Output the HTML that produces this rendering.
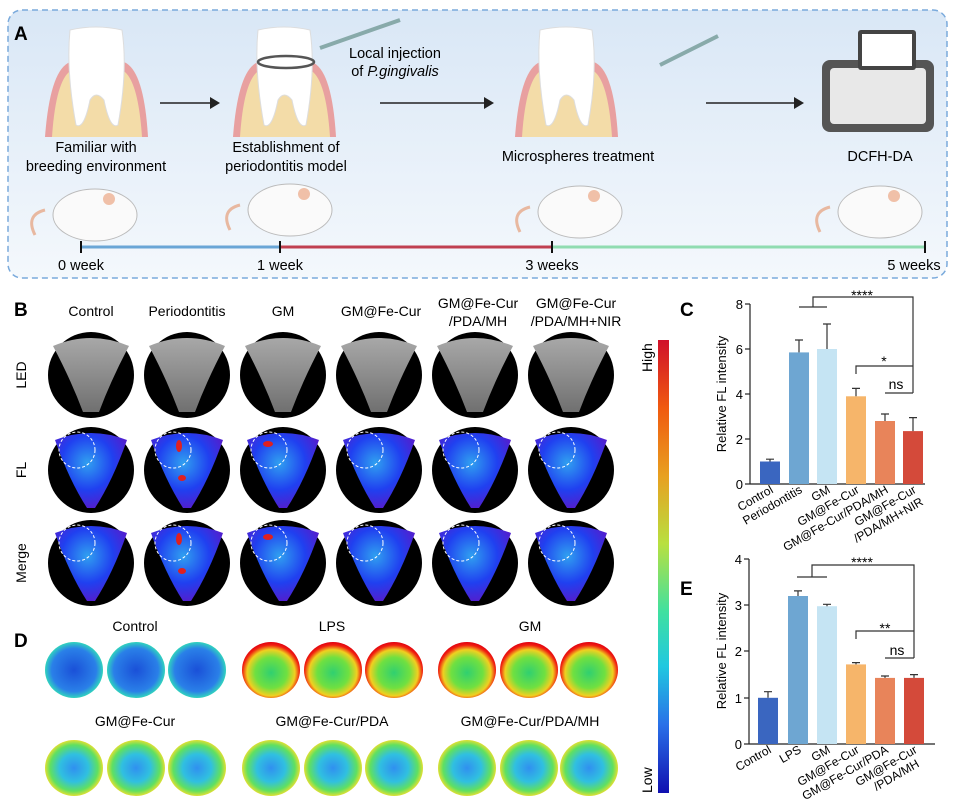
<!DOCTYPE html>
<html><head><meta charset="utf-8"><style>
html,body{margin:0;padding:0;background:#fff}
svg{display:block;font-family:"Liberation Sans",Arial,sans-serif}
</style></head><body>
<svg width="955" height="805" viewBox="0 0 955 805" xmlns="http://www.w3.org/2000/svg">
<defs>
<linearGradient id="bgA" x1="0" y1="0" x2="0" y2="1"><stop offset="0" stop-color="#d9e7f6"/><stop offset="1" stop-color="#f4f8fc"/></linearGradient>
<linearGradient id="cbar" x1="0" y1="0" x2="0" y2="1">
<stop offset="0" stop-color="#d0102a"/><stop offset="0.15" stop-color="#f05a10"/><stop offset="0.3" stop-color="#e8a020"/><stop offset="0.45" stop-color="#b8e040"/><stop offset="0.6" stop-color="#40e0a0"/><stop offset="0.72" stop-color="#20c8e0"/><stop offset="0.85" stop-color="#2a70e8"/><stop offset="1" stop-color="#1010b0"/></linearGradient>
<radialGradient id="fl" cx="0.45" cy="0.4" r="0.6"><stop offset="0" stop-color="#30a0f0"/><stop offset="0.6" stop-color="#2040f0"/><stop offset="1" stop-color="#5020d0"/></radialGradient>
<radialGradient id="cold" cx="0.5" cy="0.5" r="0.55"><stop offset="0" stop-color="#1a50d8"/><stop offset="0.7" stop-color="#2a80e8"/><stop offset="0.9" stop-color="#30d0c0"/><stop offset="1" stop-color="#60e060"/></radialGradient>
<radialGradient id="hot" cx="0.5" cy="0.55" r="0.55"><stop offset="0" stop-color="#30d070"/><stop offset="0.5" stop-color="#70e040"/><stop offset="0.75" stop-color="#f0d020"/><stop offset="0.9" stop-color="#f02010"/><stop offset="1" stop-color="#e00010"/></radialGradient>
<radialGradient id="mid" cx="0.5" cy="0.5" r="0.55"><stop offset="0" stop-color="#3090f0"/><stop offset="0.45" stop-color="#30c0e0"/><stop offset="0.75" stop-color="#60e060"/><stop offset="0.92" stop-color="#e8e030"/><stop offset="1" stop-color="#f05020"/></radialGradient>
<linearGradient id="led" x1="0" y1="0" x2="0" y2="1"><stop offset="0" stop-color="#a8a8a8"/><stop offset="1" stop-color="#707070"/></linearGradient>
<g id="col">
<circle cx="0" cy="375" r="43" fill="#000"/>
<path d="M-38 346 Q0 330 38 346 Q20 380 8 412 L-8 412 Q-20 380 -38 346Z" fill="url(#led)"/>
<circle cx="0" cy="470" r="43" fill="#000"/>
<path d="M-36 440 Q0 426 36 440 Q22 480 4 508 L-4 508 Q-22 480 -36 440Z" fill="url(#fl)"/>
<circle cx="-14" cy="450" r="18" fill="none" stroke="#fff" stroke-dasharray="3,2"/>
<circle cx="0" cy="563" r="43" fill="#000"/>
<path d="M-36 533 Q0 519 36 533 Q22 573 4 601 L-4 601 Q-22 573 -36 533Z" fill="url(#fl)"/>
<circle cx="-14" cy="543" r="18" fill="none" stroke="#fff" stroke-dasharray="3,2"/>
</g>
<g id="mouse">
<path d="M-60 20 Q-70 0 -50 -5" fill="none" stroke="#e8b8a0" stroke-width="3"/>
<ellipse cx="0" cy="0" rx="42" ry="26" fill="#fafafa" stroke="#bbb"/>
<circle cx="14" cy="-16" r="6" fill="#f0c0a8"/>
</g>
</defs>

<!-- Panel A -->
<rect x="8" y="10" width="939" height="268" rx="14" fill="url(#bgA)" stroke="#7aaadc" stroke-width="1.5" stroke-dasharray="6,4"/>
<text x="14" y="40" font-size="19" font-weight="bold">A</text>
<g id="tooth">
<path d="M45 137 Q50 70 70 62 L124 62 Q144 70 148 137 Z" fill="#e8a0a0"/>
<path d="M52 137 Q56 78 72 70 L122 70 Q138 78 142 137 Z" fill="#f3dca8"/>
<path d="M70 30 Q96 24 122 30 Q128 70 118 125 Q110 130 104 100 Q96 90 90 100 Q84 130 76 125 Q66 70 70 30Z" fill="#fff" stroke="#ddd"/>
</g>
<use href="#tooth" x="188"/>
<ellipse cx="286" cy="62" rx="28" ry="6" fill="none" stroke="#555" stroke-width="2.5"/>
<use href="#tooth" x="470"/>
<text font-size="14.5" text-anchor="middle"><tspan x="96" y="152">Familiar with</tspan><tspan x="96" y="171">breeding environment</tspan></text>
<text font-size="14.5" text-anchor="middle"><tspan x="286" y="152">Establishment of</tspan><tspan x="286" y="171">periodontitis model</tspan></text>
<text font-size="14.5" text-anchor="middle"><tspan x="395" y="58">Local injection</tspan><tspan x="395" y="76">of <tspan font-style="italic">P.gingivalis</tspan></tspan></text>
<text x="578" y="161" font-size="14.5" text-anchor="middle">Microspheres treatment</text>
<text x="880" y="161" font-size="14.5" text-anchor="middle">DCFH-DA</text>
<line x1="320" y1="48" x2="400" y2="20" stroke="#8aa" stroke-width="4"/>
<line x1="660" y1="65" x2="718" y2="36" stroke="#8aa" stroke-width="4"/>
<g stroke="#222" stroke-width="1.5"><line x1="160" y1="103" x2="212" y2="103"/><line x1="380" y1="103" x2="486" y2="103"/><line x1="706" y1="103" x2="796" y2="103"/></g>
<g fill="#222"><path d="M220 103 L210 97 L210 109Z"/><path d="M494 103 L484 97 L484 109Z"/><path d="M804 103 L794 97 L794 109Z"/></g>
<rect x="822" y="60" width="112" height="72" rx="8" fill="#555"/>
<rect x="830" y="68" width="96" height="56" rx="4" fill="#e8e8e8"/>
<rect x="858" y="30" width="58" height="40" rx="3" fill="#444"/>
<rect x="862" y="34" width="50" height="32" fill="#fff"/>
<use href="#mouse" x="95" y="215"/><use href="#mouse" x="290" y="210"/><use href="#mouse" x="580" y="212"/><use href="#mouse" x="880" y="212"/>
<line x1="81" y1="247" x2="280" y2="247" stroke="#6aa6d6" stroke-width="3"/>
<line x1="280" y1="247" x2="552" y2="247" stroke="#c04050" stroke-width="3"/>
<line x1="552" y1="247" x2="925" y2="247" stroke="#90dcb0" stroke-width="3"/>
<g stroke="#111" stroke-width="2"><line x1="81" y1="241" x2="81" y2="253"/><line x1="280" y1="241" x2="280" y2="253"/><line x1="552" y1="241" x2="552" y2="253"/><line x1="925" y1="241" x2="925" y2="253"/></g>
<g font-size="14.5" text-anchor="middle"><text x="81" y="270">0 week</text><text x="280" y="270">1 week</text><text x="552" y="270">3 weeks</text><text x="914" y="270">5 weeks</text></g>

<!-- Panel B -->
<text x="14" y="316" font-size="19" font-weight="bold">B</text>
<g font-size="14" text-anchor="middle">
<text x="91" y="316">Control</text><text x="187" y="316">Periodontitis</text><text x="283" y="316">GM</text><text x="381" y="316">GM@Fe-Cur</text>
<text x="478" y="308">GM@Fe-Cur</text><text x="478" y="326">/PDA/MH</text>
<text x="576" y="308">GM@Fe-Cur</text><text x="576" y="326">/PDA/MH+NIR</text>
</g>
<g font-size="14" text-anchor="middle">
<text transform="translate(26,375) rotate(-90)">LED</text>
<text transform="translate(26,470) rotate(-90)">FL</text>
<text transform="translate(26,563) rotate(-90)">Merge</text>
</g>
<use href="#col" x="91"/><use href="#col" x="187"/><use href="#col" x="283"/><use href="#col" x="379"/><use href="#col" x="475"/><use href="#col" x="571"/>
<g fill="#e02020"><ellipse cx="179" cy="446" rx="3" ry="6"/><ellipse cx="182" cy="478" rx="4" ry="3"/><ellipse cx="179" cy="539" rx="3" ry="6"/><ellipse cx="182" cy="571" rx="4" ry="3"/><ellipse cx="268" cy="444" rx="5" ry="3"/><ellipse cx="268" cy="537" rx="5" ry="3"/></g>
<rect x="658" y="340" width="11" height="453" fill="url(#cbar)"/>
<text transform="translate(652,372) rotate(-90)" font-size="14">High</text>
<text transform="translate(652,793) rotate(-90)" font-size="14">Low</text>

<!-- Panel D -->
<text x="14" y="647" font-size="19" font-weight="bold">D</text>
<g font-size="14" text-anchor="middle"><text x="135" y="631">Control</text><text x="332" y="631">LPS</text><text x="530" y="631">GM</text>
<text x="135" y="726">GM@Fe-Cur</text><text x="332" y="726">GM@Fe-Cur/PDA</text><text x="530" y="726">GM@Fe-Cur/PDA/MH</text></g>
<g>
<ellipse cx="74" cy="670" rx="29" ry="28" fill="url(#cold)"/><ellipse cx="136" cy="670" rx="29" ry="28" fill="url(#cold)"/><ellipse cx="197" cy="670" rx="29" ry="28" fill="url(#cold)"/>
<ellipse cx="271" cy="670" rx="29" ry="28" fill="url(#hot)"/><ellipse cx="333" cy="670" rx="29" ry="28" fill="url(#hot)"/><ellipse cx="394" cy="670" rx="29" ry="28" fill="url(#hot)"/>
<ellipse cx="467" cy="670" rx="29" ry="28" fill="url(#hot)"/><ellipse cx="529" cy="670" rx="29" ry="28" fill="url(#hot)"/><ellipse cx="589" cy="670" rx="29" ry="28" fill="url(#hot)"/>
<ellipse cx="74" cy="768" rx="29" ry="28" fill="url(#mid)"/><ellipse cx="136" cy="768" rx="29" ry="28" fill="url(#mid)"/><ellipse cx="197" cy="768" rx="29" ry="28" fill="url(#mid)"/>
<ellipse cx="271" cy="768" rx="29" ry="28" fill="url(#mid)"/><ellipse cx="333" cy="768" rx="29" ry="28" fill="url(#mid)"/><ellipse cx="394" cy="768" rx="29" ry="28" fill="url(#mid)"/>
<ellipse cx="467" cy="768" rx="29" ry="28" fill="url(#mid)"/><ellipse cx="529" cy="768" rx="29" ry="28" fill="url(#mid)"/><ellipse cx="589" cy="768" rx="29" ry="28" fill="url(#mid)"/>
</g>

<!-- Panel C -->
<text x="680" y="316" font-size="19" font-weight="bold">C</text>
<g stroke="#222" stroke-width="1.2" fill="none">
<line x1="750" y1="304" x2="750" y2="484"/><line x1="750" y1="484" x2="925" y2="484"/>
<line x1="745" y1="304" x2="750" y2="304"/><line x1="745" y1="349" x2="750" y2="349"/><line x1="745" y1="394" x2="750" y2="394"/><line x1="745" y1="439" x2="750" y2="439"/><line x1="745" y1="484" x2="750" y2="484"/>
</g>
<g font-size="13" text-anchor="end"><text x="743" y="309">8</text><text x="743" y="354">6</text><text x="743" y="399">4</text><text x="743" y="444">2</text><text x="743" y="489">0</text></g>
<text transform="translate(726,394) rotate(-90)" font-size="13" text-anchor="middle">Relative FL intensity</text>
<g>
<rect x="760" y="461.5" width="20" height="22.5" fill="#3a66c0"/>
<rect x="789" y="352.4" width="20" height="131.6" fill="#6ea6d2"/>
<rect x="817" y="349" width="20" height="135" fill="#c5e4f3"/>
<rect x="846" y="396.3" width="20" height="87.7" fill="#f6b56a"/>
<rect x="875" y="421" width="20" height="63" fill="#e8845a"/>
<rect x="903" y="431.1" width="20" height="52.9" fill="#d44a3a"/>
</g>
<g stroke="#333" stroke-width="1.2" fill="none">
<path d="M770 461.5V459.2M766 459.2H774"/><path d="M799 352.4V340M795 340H803"/><path d="M827 349V324M823 324H831"/><path d="M856 396.3V388.4M852 388.4H860"/><path d="M885 421V414M881 414H889"/><path d="M913 431.1V417.6M909 417.6H917"/>
<path d="M799 307H827M813 307V297H913V393"/><path d="M856 374V366H913"/><path d="M885 393H913"/>
</g>
<g font-size="14" text-anchor="middle"><text x="862" y="300">****</text><text x="884" y="366">*</text><text x="896" y="389">ns</text></g>
<g font-size="12" text-anchor="end">
<text transform="translate(774,492) rotate(-30)">Control</text>
<text transform="translate(803,492) rotate(-30)">Periodontitis</text>
<text transform="translate(831,492) rotate(-30)">GM</text>
<text transform="translate(860,492) rotate(-30)">GM@Fe-Cur</text>
<text transform="translate(889,492) rotate(-30)">GM@Fe-Cur/PDA/MH</text>
<text transform="translate(917,492) rotate(-30)">GM@Fe-Cur</text>
<text transform="translate(924,504) rotate(-30)">/PDA/MH+NIR</text>
</g>

<!-- Panel E -->
<text x="680" y="595" font-size="19" font-weight="bold">E</text>
<g stroke="#222" stroke-width="1.2" fill="none">
<line x1="749" y1="559" x2="749" y2="744"/><line x1="749" y1="744" x2="935" y2="744"/>
<line x1="744" y1="559" x2="749" y2="559"/><line x1="744" y1="605" x2="749" y2="605"/><line x1="744" y1="651" x2="749" y2="651"/><line x1="744" y1="698" x2="749" y2="698"/><line x1="744" y1="744" x2="749" y2="744"/>
</g>
<g font-size="13" text-anchor="end"><text x="742" y="564">4</text><text x="742" y="610">3</text><text x="742" y="656">2</text><text x="742" y="703">1</text><text x="742" y="749">0</text></g>
<text transform="translate(726,651) rotate(-90)" font-size="13" text-anchor="middle">Relative FL intensity</text>
<g>
<rect x="758" y="697.8" width="20" height="46.2" fill="#3a66c0"/>
<rect x="788" y="596" width="20" height="148" fill="#6ea6d2"/>
<rect x="817" y="606.2" width="20" height="137.8" fill="#c5e4f3"/>
<rect x="846" y="664.4" width="20" height="79.6" fill="#f6b56a"/>
<rect x="875" y="677.9" width="20" height="66.1" fill="#e8845a"/>
<rect x="904" y="677.9" width="20" height="66.1" fill="#d44a3a"/>
</g>
<g stroke="#333" stroke-width="1.2" fill="none">
<path d="M768 697.8V691.7M764 691.7H772"/><path d="M798 596V590.9M794 590.9H802"/><path d="M827 606.2V604.3M823 604.3H831"/><path d="M856 664.4V662.6M852 662.6H860"/><path d="M885 677.9V676M881 676H889"/><path d="M914 677.9V674.6M910 674.6H918"/>
<path d="M797 577H827M812 577V565H914V658"/><path d="M856 639V631H914"/><path d="M885 658H914"/>
</g>
<g font-size="14" text-anchor="middle"><text x="862" y="567">****</text><text x="885" y="633">**</text><text x="897" y="655">ns</text></g>
<g font-size="12" text-anchor="end">
<text transform="translate(772,752) rotate(-30)">Control</text>
<text transform="translate(802,752) rotate(-30)">LPS</text>
<text transform="translate(831,752) rotate(-30)">GM</text>
<text transform="translate(860,752) rotate(-30)">GM@Fe-Cur</text>
<text transform="translate(889,752) rotate(-30)">GM@Fe-Cur/PDA</text>
<text transform="translate(918,752) rotate(-30)">GM@Fe-Cur</text>
<text transform="translate(920,766) rotate(-30)">/PDA/MH</text>
</g>
</svg>
</body></html>
